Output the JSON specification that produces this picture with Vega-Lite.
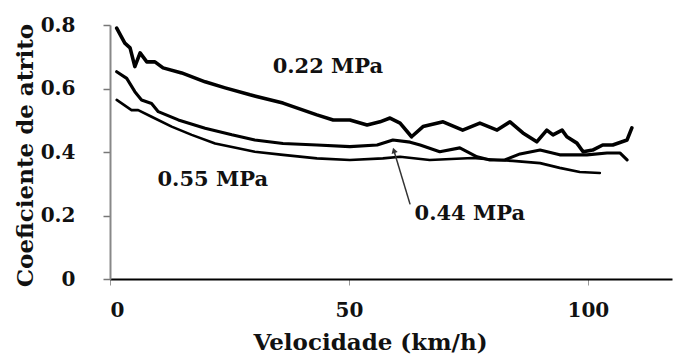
{
  "$schema": "https://vega.github.io/schema/vega-lite/v6.json",
  "autosize": "none",
  "width": 562,
  "height": 254,
  "padding": {"left": 110, "top": 25, "right": 1, "bottom": 75},
  "background": "white",
  "config": {
    "view": {"stroke": null},
    "font": "DejaVu Serif",
    "axis": {"grid": false, "labelFont": "DejaVu Serif", "labelFontWeight": "bold", "labelFontSize": 20, "labelColor": "#111", "titleFont": "DejaVu Serif", "titleFontWeight": "bold", "titleFontSize": 23, "titleColor": "#111"}
  },
  "datasets": {
    "curves": [
      {"s": "0.22 MPa", "v": 1.4, "c": 0.79},
      {"s": "0.22 MPa", "v": 3.1, "c": 0.743},
      {"s": "0.22 MPa", "v": 4.2, "c": 0.728},
      {"s": "0.22 MPa", "v": 5.2, "c": 0.669},
      {"s": "0.22 MPa", "v": 6.3, "c": 0.712},
      {"s": "0.22 MPa", "v": 7.7, "c": 0.684},
      {"s": "0.22 MPa", "v": 9.4, "c": 0.684},
      {"s": "0.22 MPa", "v": 11.1, "c": 0.665},
      {"s": "0.22 MPa", "v": 15.0, "c": 0.649},
      {"s": "0.22 MPa", "v": 19.9, "c": 0.621},
      {"s": "0.22 MPa", "v": 24.1, "c": 0.602},
      {"s": "0.22 MPa", "v": 29.3, "c": 0.58},
      {"s": "0.22 MPa", "v": 36.2, "c": 0.554},
      {"s": "0.22 MPa", "v": 43.3, "c": 0.517},
      {"s": "0.22 MPa", "v": 46.7, "c": 0.501},
      {"s": "0.22 MPa", "v": 50.2, "c": 0.501},
      {"s": "0.22 MPa", "v": 53.8, "c": 0.485},
      {"s": "0.22 MPa", "v": 56.5, "c": 0.495},
      {"s": "0.22 MPa", "v": 58.6, "c": 0.507},
      {"s": "0.22 MPa", "v": 60.7, "c": 0.491},
      {"s": "0.22 MPa", "v": 63.1, "c": 0.448},
      {"s": "0.22 MPa", "v": 65.5, "c": 0.48},
      {"s": "0.22 MPa", "v": 69.7, "c": 0.495},
      {"s": "0.22 MPa", "v": 73.8, "c": 0.469},
      {"s": "0.22 MPa", "v": 77.4, "c": 0.491},
      {"s": "0.22 MPa", "v": 81.0, "c": 0.469},
      {"s": "0.22 MPa", "v": 83.7, "c": 0.495},
      {"s": "0.22 MPa", "v": 86.4, "c": 0.46},
      {"s": "0.22 MPa", "v": 89.3, "c": 0.432},
      {"s": "0.22 MPa", "v": 91.4, "c": 0.469},
      {"s": "0.22 MPa", "v": 92.7, "c": 0.454},
      {"s": "0.22 MPa", "v": 94.6, "c": 0.469},
      {"s": "0.22 MPa", "v": 95.6, "c": 0.448},
      {"s": "0.22 MPa", "v": 97.7, "c": 0.428},
      {"s": "0.22 MPa", "v": 99.0, "c": 0.401},
      {"s": "0.22 MPa", "v": 101.0, "c": 0.406},
      {"s": "0.22 MPa", "v": 103.1, "c": 0.422},
      {"s": "0.22 MPa", "v": 105.2, "c": 0.422},
      {"s": "0.22 MPa", "v": 108.2, "c": 0.438},
      {"s": "0.22 MPa", "v": 109.2, "c": 0.476},
      {"s": "0.44 MPa", "v": 1.4, "c": 0.653},
      {"s": "0.44 MPa", "v": 3.5, "c": 0.632},
      {"s": "0.44 MPa", "v": 5.2, "c": 0.59},
      {"s": "0.44 MPa", "v": 6.6, "c": 0.564},
      {"s": "0.44 MPa", "v": 8.7, "c": 0.553},
      {"s": "0.44 MPa", "v": 10.1, "c": 0.527},
      {"s": "0.44 MPa", "v": 14.3, "c": 0.501},
      {"s": "0.44 MPa", "v": 19.9, "c": 0.475},
      {"s": "0.44 MPa", "v": 25.5, "c": 0.454},
      {"s": "0.44 MPa", "v": 30.3, "c": 0.438},
      {"s": "0.44 MPa", "v": 36.2, "c": 0.427},
      {"s": "0.44 MPa", "v": 43.3, "c": 0.422},
      {"s": "0.44 MPa", "v": 50.2, "c": 0.417},
      {"s": "0.44 MPa", "v": 55.9, "c": 0.422},
      {"s": "0.44 MPa", "v": 59.2, "c": 0.438},
      {"s": "0.44 MPa", "v": 62.8, "c": 0.431},
      {"s": "0.44 MPa", "v": 64.9, "c": 0.422},
      {"s": "0.44 MPa", "v": 69.0, "c": 0.401},
      {"s": "0.44 MPa", "v": 73.2, "c": 0.413},
      {"s": "0.44 MPa", "v": 76.8, "c": 0.385},
      {"s": "0.44 MPa", "v": 79.5, "c": 0.375},
      {"s": "0.44 MPa", "v": 82.6, "c": 0.375},
      {"s": "0.44 MPa", "v": 85.8, "c": 0.394},
      {"s": "0.44 MPa", "v": 90.0, "c": 0.406},
      {"s": "0.44 MPa", "v": 94.1, "c": 0.391},
      {"s": "0.44 MPa", "v": 99.8, "c": 0.391},
      {"s": "0.44 MPa", "v": 104.0, "c": 0.397},
      {"s": "0.44 MPa", "v": 106.7, "c": 0.397},
      {"s": "0.44 MPa", "v": 108.2, "c": 0.375},
      {"s": "0.55 MPa", "v": 1.4, "c": 0.564},
      {"s": "0.55 MPa", "v": 4.5, "c": 0.532},
      {"s": "0.55 MPa", "v": 5.9, "c": 0.532},
      {"s": "0.55 MPa", "v": 8.7, "c": 0.511},
      {"s": "0.55 MPa", "v": 12.9, "c": 0.48},
      {"s": "0.55 MPa", "v": 17.1, "c": 0.454},
      {"s": "0.55 MPa", "v": 22.0, "c": 0.427},
      {"s": "0.55 MPa", "v": 26.8, "c": 0.412},
      {"s": "0.55 MPa", "v": 30.3, "c": 0.401},
      {"s": "0.55 MPa", "v": 36.2, "c": 0.391},
      {"s": "0.55 MPa", "v": 43.3, "c": 0.38},
      {"s": "0.55 MPa", "v": 50.2, "c": 0.375},
      {"s": "0.55 MPa", "v": 57.1, "c": 0.38},
      {"s": "0.55 MPa", "v": 60.7, "c": 0.385},
      {"s": "0.55 MPa", "v": 66.9, "c": 0.375},
      {"s": "0.55 MPa", "v": 75.9, "c": 0.381},
      {"s": "0.55 MPa", "v": 81.0, "c": 0.375},
      {"s": "0.55 MPa", "v": 84.3, "c": 0.372},
      {"s": "0.55 MPa", "v": 90.0, "c": 0.365},
      {"s": "0.55 MPa", "v": 94.1, "c": 0.35},
      {"s": "0.55 MPa", "v": 98.3, "c": 0.337},
      {"s": "0.55 MPa", "v": 102.5, "c": 0.334}
    ],
    "labels": [
      {"label": "0.22 MPa", "v": 45.6, "c": 0.667},
      {"label": "0.55 MPa", "v": 21.5, "c": 0.312},
      {"label": "0.44 MPa", "v": 75.3, "c": 0.205}
    ],
    "arrow": [
      {"v": 62.8, "c": 0.235, "v2": 59.4, "c2": 0.405}
    ]
  },
  "layer": [
    {
      "data": {"name": "curves"},
      "mark": {"type": "line", "color": "black", "strokeJoin": "round", "strokeCap": "round"},
      "encoding": {
        "x": {"field": "v", "type": "quantitative", "scale": {"domain": [0, 117.6], "nice": false, "zero": false},
              "axis": {"values": [0, 50, 100], "title": "Velocidade (km/h)", "domainColor": "black", "domainWidth": 2, "tickColor": "#999", "tickSize": 6, "labelPadding": 15, "titleX": 260, "titleY": 63, "titleBaseline": "middle", "titleAlign": "center"}},
        "y": {"field": "c", "type": "quantitative", "scale": {"domain": [0, 0.8], "nice": false},
              "axis": {"values": [0, 0.2, 0.4, 0.6, 0.8], "format": "~g", "title": "Coeficiente de atrito", "domainColor": "#888", "domainWidth": 2, "ticks": true, "tickColor": "#777", "tickWidth": 1.5, "tickSize": 7, "labelAlign": "right", "labelPadding": 28, "titleX": -85, "titleY": 130, "titleBaseline": "middle", "titleAlign": "center"}},
        "detail": {"field": "s"},
        "strokeWidth": {"field": "s", "type": "nominal", "scale": {"domain": ["0.22 MPa", "0.44 MPa", "0.55 MPa"], "range": [3.6, 2.6, 2.6]}, "legend": null}
      }
    },
    {
      "mark": {"type": "rule", "color": "#999", "strokeWidth": 2},
      "encoding": {"y": {"datum": 0.8}}
    },
    {
      "data": {"name": "arrow"},
      "mark": {"type": "rule", "color": "#333", "strokeWidth": 1.5},
      "encoding": {
        "x": {"field": "v", "type": "quantitative"},
        "y": {"field": "c", "type": "quantitative"},
        "x2": {"field": "v2"},
        "y2": {"field": "c2"}
      }
    },
    {
      "data": {"name": "arrow"},
      "mark": {"type": "point", "shape": "triangle-up", "filled": true, "color": "#333", "size": 40, "angle": 343, "opacity": 1},
      "encoding": {
        "x": {"field": "v2", "type": "quantitative"},
        "y": {"field": "c2", "type": "quantitative"}
      }
    },
    {
      "data": {"name": "labels"},
      "mark": {"type": "text", "font": "DejaVu Serif", "fontWeight": "bold", "fontSize": 21, "color": "#111", "align": "center", "baseline": "middle"},
      "encoding": {
        "x": {"field": "v", "type": "quantitative"},
        "y": {"field": "c", "type": "quantitative"},
        "text": {"field": "label"}
      }
    }
  ]
}
